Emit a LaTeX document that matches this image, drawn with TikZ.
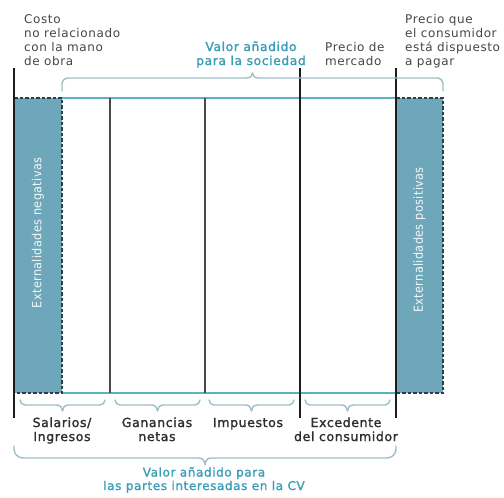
\documentclass[tikz,border=0pt]{standalone}
\usepackage{fontspec}
\setmainfont{DejaVu Sans}[LetterSpace=5]
\newfontfamily\medfont{DejaVu Sans}[LetterSpace=5,FakeBold=1.6]
\newfontfamily\thinfont{DejaVu Sans Condensed}[LetterSpace=3]
\definecolor{tealtxt}{HTML}{3A9EB7}
\definecolor{tealline}{HTML}{5AB3C1}
\definecolor{shadefill}{HTML}{6EA7B9}
\definecolor{bracec}{HTML}{9DBEC4}
\definecolor{darkline}{HTML}{1C1C1C}
\definecolor{thinline}{HTML}{4A4A4A}
\definecolor{dashc}{HTML}{2E3E44}
\definecolor{txtgray}{HTML}{454545}
\definecolor{txtdark}{HTML}{2E2E2E}
\newcommand\hbrace[6]{%
 \pgfmathsetmacro\bxm{(#1+#2)/2}%
 \pgfmathsetmacro\bs{#4>#3 ? 1 : -1}%
 \pgfmathsetmacro\bya{#4-\bs*#6}%
 \pgfmathsetmacro\byb{#4-\bs*0.45*#6}%
 \pgfmathsetmacro\bymid{(#4+#5)/2}%
 \draw[bracestyle] (#1,#3) -- (#1,\bya) .. controls (#1,\byb) and ({#1+0.45*#6},#4) .. ({#1+#6},#4)
   -- ({\bxm-6},#4) .. controls ({\bxm-2},#4) and (\bxm,\bymid) .. (\bxm,#5)
   .. controls (\bxm,\bymid) and ({\bxm+2},#4) .. ({\bxm+6},#4)
   -- ({#2-#6},#4) .. controls ({#2-0.45*#6},#4) and (#2,\byb) .. (#2,\bya) -- (#2,#3);}
\begin{document}
\begin{tikzpicture}[x=1pt,y=-1pt,
  bracestyle/.style={draw=bracec,line width=1.4pt,line join=round,line cap=round},
  thickline/.style={draw=darkline,line width=2.8pt},
  thinv/.style={draw=thinline,line width=1.3pt},
  tealh/.style={draw=tealline,line width=1.5pt},
  dashb/.style={draw=dashc,line width=1.5pt,dash pattern=on 3.5pt off 2pt},
  toplabel/.style={anchor=base west,align=left,inner sep=0pt,text=txtgray,
    font=\fontsize{12}{14}\selectfont},
  teallabel/.style={anchor=base,align=center,inner sep=0pt,text=tealtxt,
    font=\medfont\fontsize{12.3}{14}\selectfont},
  teallabelsm/.style={teallabel,font=\medfont\fontsize{12}{13.5}\selectfont},
  botlabel/.style={anchor=base,align=center,inner sep=0pt,text=txtdark,
    font=\medfont\fontsize{12.5}{14}\selectfont},
  vertlabel/.style={rotate=90,inner sep=0pt,text=white!92!shadefill,
    font=\thinfont\fontsize{12.5}{14}\selectfont}]
\useasboundingbox (0,0) rectangle (504,498);
% coordinates
\coordinate (L0) at (14,68);  \coordinate (L1) at (14,418);
\coordinate (P0) at (300,68); \coordinate (P1) at (300,418);
\coordinate (W0) at (396,68); \coordinate (W1) at (396,418);
\coordinate (T1) at (110,98); \coordinate (B1) at (110,393);
\coordinate (T2) at (205,98); \coordinate (B2) at (205,393);
% shaded boxes
\fill[shadefill] (14,98) rectangle (62,393);
\fill[shadefill] (396,98) rectangle (443,393);
% teal frame
\draw[tealh] (62,98) -- (396,98);
\draw[tealh] (62,393) -- (396,393);
% thin verticals
\draw[thinv] (T1) -- (B1);
\draw[thinv] (T2) -- (B2);
% dashed borders
\draw[dashb] (14,98) -- (62,98) -- (62,393) -- (14,393);
\draw[dashb] (396,98) -- (443,98) -- (443,393) -- (396,393);
% thick lines
\draw[thickline] (L0) -- (L1);
\draw[thickline] (P0) -- (P1);
\draw[thickline] (W0) -- (W1);
% vertical labels
\node[vertlabel] (neg) at (38,233) {Externalidades negativas};
\node[vertlabel] (pos) at (419.5,240) {Externalidades positivas};
% braces
\hbrace{62}{443}{91}{78}{73}{6}
\hbrace{20}{105}{400}{405}{411}{5}
\hbrace{115}{200}{400}{405}{411}{5}
\hbrace{209}{294}{400}{405}{411}{5}
\hbrace{305}{390}{400}{405}{411}{5}
\hbrace{14}{396}{446}{458}{465}{9}
% top labels (anchor = baseline of last line)
\node[toplabel] (costo) at (24,65) {Costo\\no relacionado\\con la mano\\de obra};
\node[teallabel] (vsoc) at (251,65) {Valor añadido\\para la sociedad};
\node[toplabel] (pmerc) at (325,65) {Precio de\\mercado};
\node[toplabel] (pdisp) at (405,65) {Precio que\\el consumidor\\está dispuesto\\a pagar};
% bottom labels
\node[botlabel] (sal) at (62,441) {Salarios/\\Ingresos};
\node[botlabel] (gan) at (157,441) {Ganancias\\netas};
\node[botlabel] (imp) at (248,427) {Impuestos};
\node[botlabel] (exc) at (346,441) {Excedente\\del consumidor};
\node[teallabelsm] (vcv) at (204,490) {Valor añadido para\\las partes interesadas en la CV};
\end{tikzpicture}
\end{document}
